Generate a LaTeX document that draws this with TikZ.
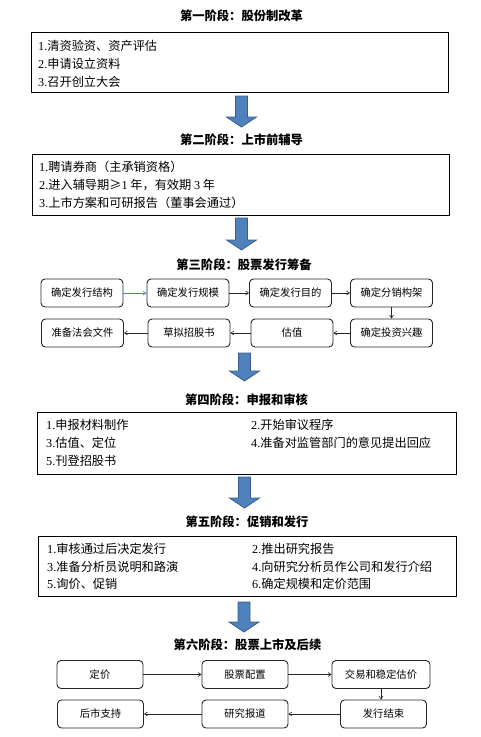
\documentclass[tikz,border=0pt]{standalone}
\usepackage{fontspec}
\setmainfont{Liberation Serif}
\newfontfamily\cjk{Noto Sans CJK SC}
\usepackage{tikz}
\usetikzlibrary{arrows.meta,positioning,calc}
\definecolor{arrowblue}{RGB}{79,129,189}
\definecolor{arrowedge}{RGB}{56,93,138}
\newcommand{\itemno}[1]{{\rmfamily #1}}
\newcommand{\stagearrow}[3]{% x, top, tip
  \draw[fill=arrowblue,draw=arrowedge,line width=0.8pt]
    (#1-6,#2) -- (#1+6,#2) -- (#1+6,#3-10) -- (#1+15,#3-10) -- (#1,#3)
    -- (#1-15,#3-10) -- (#1-6,#3-10) -- cycle;}

\begin{document}
\begin{tikzpicture}[
    x=1pt, y=-1pt,
    stagetitle/.style={font=\cjk\bfseries\fontsize{12.3}{14}\selectfont,inner sep=0pt},
    stagebox/.style={draw,line width=0.8pt,inner sep=0pt},
    itemtext/.style={anchor=west,inner sep=0pt,font=\cjk\fontsize{12.2}{14}\selectfont},
    stepbox/.style={draw=black!85,line width=0.9pt,rounded corners=4pt,
        minimum width=82pt,minimum height=28pt,inner sep=0pt,
        font=\cjk\fontsize{10.3}{12}\selectfont},
    flow/.style={-{Straight Barb[length=3pt,width=4pt]},line width=0.6pt,black!85},
]
\useasboundingbox (0,0) rectangle (480,737);

% stage 1
\node[stagetitle] (t1) at (241.5,16) {第一阶段：股份制改革};
\node[stagebox,minimum width=417pt,minimum height=60pt] (s1) at (239.5,62) {};
\node[itemtext] (s1a) at (38,46) {\itemno{1.}清资验资、资产评估};
\node[itemtext] (s1b) at (38,64) {\itemno{2.}申请设立资料};
\node[itemtext] (s1c) at (38,82) {\itemno{3.}召开创立大会};

% stage 2
\node[stagetitle] (t2) at (241.5,140) {第二阶段：上市前辅导};
\node[stagebox,minimum width=417pt,minimum height=61pt] (s2) at (240.5,184.5) {};
\node[itemtext] (s2a) at (39,167) {\itemno{1.}聘请券商（主承销资格）};
\node[itemtext] (s2b) at (39,185) {\itemno{2.}进入辅导期≥\itemno{1} 年，有效期 \itemno{3} 年};
\node[itemtext] (s2c) at (39,203) {\itemno{3.}上市方案和可研报告（董事会通过）};

% stage 3
\node[stagetitle] (t3) at (244,265) {第三阶段：股票发行筹备};
\node[stepbox] (a1) at (82,293) {确定发行结构};
\node[stepbox] (a2) at (188,293) {确定发行规模};
\node[stepbox] (a3) at (290.5,293) {确定发行目的};
\node[stepbox] (a4) at (391.5,293) {确定分销构架};
\node[stepbox] (b4) at (391.5,333) {确定投资兴趣};
\node[stepbox] (b3) at (292,333) {估值};
\node[stepbox] (b2) at (189,333) {草拟招股书};
\node[stepbox] (b1) at (82.5,333) {准备法会文件};
\draw[flow,arrowblue] (a1) -- (a2);
\draw[flow] (a2) -- (a3);
\draw[flow] (a3) -- (a4);
\draw[flow] (a4) -- (b4);
\draw[flow] (b4) -- (b3);
\draw[flow] (b3) -- (b2);
\draw[flow] (b2) -- (b1);

% stage 4
\node[stagetitle] (t4) at (246.5,400) {第四阶段：申报和审核};
\node[stagebox,minimum width=419pt,minimum height=62pt] (s4) at (246.5,443) {};
\node[itemtext] (s4a) at (46,425) {\itemno{1.}申报材料制作};
\node[itemtext] (s4b) at (251,425) {\itemno{2.}开始审议程序};
\node[itemtext] (s4c) at (46,443) {\itemno{3.}估值、定位};
\node[itemtext] (s4d) at (251,443) {\itemno{4.}准备对监管部门的意见提出回应};
\node[itemtext] (s4e) at (46,461) {\itemno{5.}刊登招股书};

% stage 5
\node[stagetitle] (t5) at (247,522) {第五阶段：促销和发行};
\node[stagebox,minimum width=418pt,minimum height=60pt] (s5) at (247,566) {};
\node[itemtext] (s5a) at (47,549) {\itemno{1.}审核通过后决定发行};
\node[itemtext] (s5b) at (252,549) {\itemno{2.}推出研究报告};
\node[itemtext] (s5c) at (47,567) {\itemno{3.}准备分析员说明和路演};
\node[itemtext] (s5d) at (252,567) {\itemno{4.}向研究分析员作公司和发行介绍};
\node[itemtext] (s5e) at (47,584) {\itemno{5.}询价、促销};
\node[itemtext] (s5f) at (252,584) {\itemno{6.}确定规模和定价范围};

% stage 6
\node[stagetitle] (t6) at (247.5,645) {第六阶段：股票上市及后续};
\node[stepbox,minimum width=86pt] (c1) at (100,674.5) {定价};
\node[stepbox,minimum width=86pt] (c2) at (245,674.5) {股票配置};
\node[stepbox,minimum width=98pt] (c3) at (381,674.5) {交易和稳定估价};
\node[stepbox,minimum width=86pt] (d3) at (383.5,714) {发行结束};
\node[stepbox,minimum width=86pt] (d2) at (245,714) {研究报道};
\node[stepbox,minimum width=86pt] (d1) at (100.5,714) {后市支持};
\draw[flow] (c1) -- (c2);
\draw[flow] (c2) -- (c3);
\draw[flow] (c3.south) -- (c3.south |- d3.north);
\draw[flow] (d3) -- (d2);
\draw[flow] (d2) -- (d1);

% big arrows between the stages
\foreach \ax/\ay/\az in {241.5/96/127, 241.5/218/250, 244.5/353/381, 244.5/477/508, 244/602/632}
  {\stagearrow{\ax}{\ay}{\az}}
\end{tikzpicture}
\end{document}
